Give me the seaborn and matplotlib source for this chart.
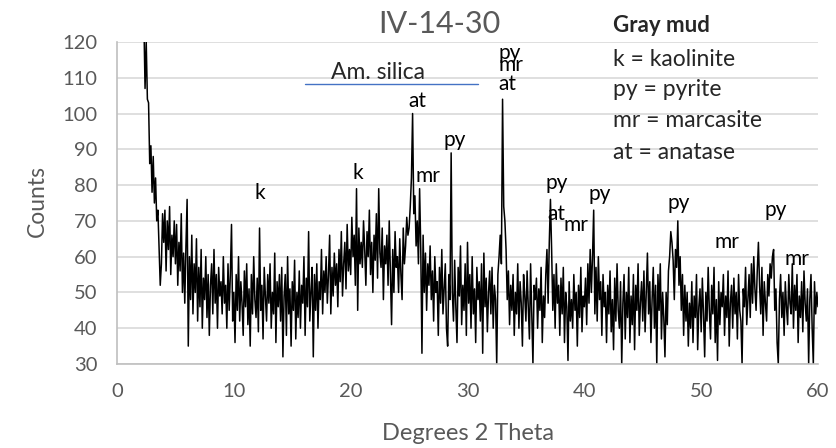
import numpy as np
import matplotlib
matplotlib.use("Agg")
import matplotlib.pyplot as plt
import seaborn as sns

# XRD scan, 2-theta from 2.3 to 60.0 deg in 0.1 deg steps
scan_start, scan_step = 2.3, 0.1
counts = [
    126, 107, 120, 104, 103, 86, 91,                     # 2.3-2.9
    78, 88, 75, 82, 70, 73, 62, 52, 58, 72,              # 3
    64, 73, 56, 70, 62, 74, 55, 66, 60, 70,              # 4
    58, 69, 52, 64, 56, 72, 50, 61, 47, 63,              # 5
    76, 35, 60, 48, 66, 44, 58, 50, 65, 42,              # 6
    57, 46, 62, 40, 54, 48, 60, 43, 55, 38,              # 7
    52, 58, 44, 62, 47, 55, 40, 57, 49, 53,              # 8
    44, 60, 47, 52, 40, 58, 45, 55, 69, 42,              # 9
    50, 36, 55, 45, 60, 42, 53, 47, 38, 56,              # 10
    46, 58, 41, 51, 35, 55, 44, 60, 48, 43,              # 11
    54, 39, 68, 45, 52, 37, 57, 49, 42, 55,              # 12
    47, 58, 40, 50, 44, 61, 36, 53, 46, 55,              # 13
    42, 57, 32, 49, 55, 38, 60, 44, 51, 35,              # 14
    53, 45, 59, 37, 50, 43, 56, 40, 52, 47,              # 15
    60, 38, 54, 46, 67, 42, 50, 57, 32, 55,              # 16
    45, 58, 40, 53, 48, 62, 44, 56, 50, 60,              # 17
    47, 55, 66, 44, 57, 49, 61, 52, 58, 46,              # 18
    62, 53, 67, 49, 58, 64, 51, 69, 56, 62,              # 19
    55, 71, 60, 66, 52, 79, 45, 68, 58, 64,              # 20
    57, 70, 62, 52, 67, 60, 73, 55, 64, 50,              # 21
    66, 59, 72, 54, 79, 61, 57, 68, 48, 63,              # 22
    58, 66, 52, 70, 56, 41, 62, 50, 67, 57,              # 23
    60, 50, 65, 55, 48, 68, 58, 63, 71, 66,              # 24
    68, 74, 82, 100, 72, 77, 63, 70, 58, 79,             # 25
    62, 33, 66, 50, 61, 45, 58, 52, 63, 48,              # 26
    56, 42, 60, 50, 53, 38, 57, 47, 62, 44,              # 27
    51, 58, 40, 35, 55, 48, 89, 50, 42, 59,              # 28
    46, 36, 57, 49, 63, 41, 52, 45, 58, 38,              # 29
    64, 47, 55, 40, 60, 44, 51, 36, 57, 48,              # 30
    53, 42, 58, 33, 61, 46, 54, 39, 50, 56,              # 31
    44, 57, 40, 52, 48, 30, 55, 60, 66, 58,              # 32
    104, 74, 70, 62, 48, 56, 41, 52, 45, 55,             # 33
    38, 50, 44, 58, 40, 53, 47, 35, 55, 49,              # 34
    42, 56, 46, 37, 58, 44, 30, 52, 48, 54,              # 35
    40, 51, 45, 57, 36, 49, 43, 55, 62, 47,              # 36
    64, 76, 62, 45, 55, 40, 58, 47, 52, 38,              # 37
    54, 44, 57, 36, 50, 46, 31, 53, 42, 48,              # 38
    40, 55, 45, 50, 35, 52, 43, 57, 39, 49,              # 39
    46, 54, 41, 58, 47, 62, 50, 60, 73, 44,              # 40
    57, 42, 60, 48, 53, 38, 55, 46, 50, 36,              # 41
    52, 44, 56, 39, 48, 34, 54, 42, 58, 45,              # 42
    40, 53, 30, 47, 55, 37, 50, 43, 57, 36,              # 43
    49, 41, 55, 34, 52, 45, 58, 38, 47, 53,              # 44
    42, 56, 39, 50, 61, 44, 53, 36, 48, 57,              # 45
    40, 52, 30, 55, 45, 58, 37, 50, 43, 32,              # 46
    50, 41, 56, 60, 67, 64, 59, 48, 62, 57,              # 47
    70, 52, 60, 45, 55, 38, 52, 42, 50, 35,              # 48
    47, 40, 53, 36, 49, 43, 55, 34, 46, 51,              # 49
    39, 54, 44, 32, 50, 42, 57, 45, 37, 52,              # 50
    44, 57, 36, 48, 31, 53, 41, 50, 46, 55,              # 51
    38, 49, 43, 56, 35, 47, 52, 40, 54, 44,              # 52
    50, 37, 55, 45, 42, 30, 51, 46, 57, 41,              # 53
    48, 55, 43, 58, 47, 60, 51, 45, 56, 64,              # 54
    52, 44, 57, 38, 53, 47, 42, 55, 49, 58,              # 55
    54, 60, 62, 45, 51, 36, 30, 48, 55, 43,              # 56
    50, 38, 53, 46, 41, 55, 47, 44, 58, 40,              # 57
    52, 45, 55, 36, 49, 43, 53, 39, 56, 47,              # 58
    42, 51, 30, 48, 55, 40, 30, 53, 44, 50,              # 59
    46,                                                  # 60.0
]
two_theta = np.round(scan_start + scan_step * np.arange(len(counts)), 1)

# phase labels: (text, 2-theta, counts)
peak_labels = ["k", "k", "at", "mr", "py", "py", "mr", "at", "py", "at", "mr",
               "py", "py", "mr", "py", "mr"]
peak_x = [12.2, 20.6, 25.7, 26.6, 28.9, 33.6, 33.7, 33.4, 37.6, 37.6, 39.3,
          41.3, 48.1, 52.2, 56.4, 58.2]
peak_y = [77.9, 83.5, 103.6, 82.5, 92.6, 116.9, 113.6, 108.3, 80.6, 71.9, 68.8,
          77.5, 75.0, 64.0, 73.0, 59.3]

legend_lines = ["k = kaolinite", "py = pyrite", "mr = marcasite", "at = anatase"]
legend_y = [115.2, 106.6, 98.0, 89.2]

silica_range = [16.1, 30.9]
silica_level = 108.2

sns.set_style("white")
plt.rcParams["font.family"] = ["Lato", "DejaVu Sans"]

grey = "#595959"
fig = plt.figure(figsize=(8.37, 4.48), dpi=100)
ax = fig.add_axes([0.1398, 0.1875, 0.9773 - 0.1398, 0.9063 - 0.1875])

sns.lineplot(x=two_theta, y=counts, ax=ax, color="black", lw=1.1)

ax.set_xlim(0, 60)
ax.set_ylim(30, 120)
ax.set_xticks(range(0, 61, 10))
ax.set_yticks(range(30, 121, 10))
ax.yaxis.grid(True, color="#D9D9D9", lw=1.2)
ax.set_axisbelow(True)
for s in ["top", "right"]:
    ax.spines[s].set_visible(False)
for s in ["left", "bottom"]:
    ax.spines[s].set_color("#BFBFBF")
    ax.spines[s].set_linewidth(1.2)
ax.tick_params(axis="both", length=0, labelsize=14.5, colors=grey)
ax.tick_params(axis="x", pad=14)
ax.tick_params(axis="y", pad=14)

ax.text(0.5, -0.217, "Degrees 2 Theta", transform=ax.transAxes, ha="center",
        va="center", fontsize=17, color=grey)
ax.text(-0.114, 0.507, "Counts", transform=ax.transAxes, ha="center",
        va="center", rotation=90, fontsize=16.5, color=grey)
ax.text(27.57, 125.0, "IV-14-30", ha="center", va="center", fontsize=22,
        color=grey, clip_on=False)

for lab, x, y in zip(peak_labels, peak_x, peak_y):
    ax.text(x, y, lab, ha="center", va="center", fontsize=15, color="black",
            clip_on=False)

ax.plot(silica_range, [silica_level, silica_level], color="#4472C4", lw=1)
ax.text(22.3, 111.4, "Am. silica", ha="center", va="center", fontsize=16.5)

ax.text(42.47, 124.5, "Gray mud", ha="left", va="center", fontsize=16,
        fontweight="bold", clip_on=False)
for t, y in zip(legend_lines, legend_y):
    ax.text(42.47, y, t, ha="left", va="center", fontsize=16.5)

fig.savefig("out.png", dpi=100)
